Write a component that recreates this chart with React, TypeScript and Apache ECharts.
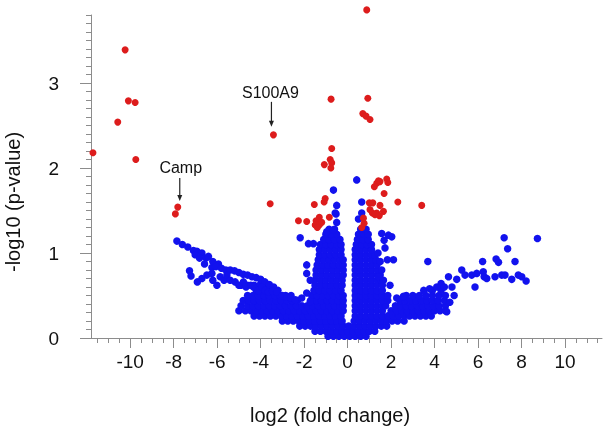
import React, { useEffect, useRef } from 'react';
import * as echarts from 'echarts';

// ---------- axis ticks ----------
const xMajorTicks = [-10, -8, -6, -4, -2, 0, 2, 4, 6, 8, 10];
const yMajorTicks = [0, 1, 2, 3];

// ---------- significant (red) genes: [log2FC, -log10 p] ----------
const significantPoints: [number, number][] = [
  [-10.23, 3.39], [-10.08, 2.79], [-9.77, 2.77], [-10.57, 2.54], [-11.71, 2.18], [-9.74, 2.1],
  [-7.81, 1.54], [-7.92, 1.46], [-3.41, 2.39], [-3.56, 1.58],
  [0.88, 3.86], [-0.76, 2.81], [0.93, 2.82], [0.7, 2.64], [0.85, 2.61], [1.03, 2.57],
  [-0.73, 2.23], [-0.8, 2.1], [-0.73, 2.06], [-1.07, 2.04], [-0.77, 2.0],
  [1.42, 1.85], [1.34, 1.82], [1.23, 1.78], [1.8, 1.87], [1.85, 1.83], [1.68, 1.7], [2.31, 1.6],
  [1.0, 1.59], [1.16, 1.59], [1.49, 1.56], [1.03, 1.51], [1.14, 1.47], [1.34, 1.47], [1.65, 1.49],
  [1.26, 1.45], [1.46, 1.44], [0.73, 1.41], [0.76, 1.35], [0.65, 1.3], [1.49, 1.84],
  [-1.03, 1.64], [-1.08, 1.6], [-1.53, 1.57], [-1.3, 1.42], [-0.84, 1.42], [-2.26, 1.38],
  [-1.88, 1.37], [-1.45, 1.38], [-1.49, 1.33], [-1.3, 1.33], [-1.19, 1.36], [-1.39, 1.3],
  [3.41, 1.56],
];

// ---------- non-significant (blue) genes ----------
const leftArmUpper: [number, number][] = [
  [-7.85, 1.14], [-7.6, 1.1], [-7.35, 1.07], [-7.09, 1.03], [-6.93, 1.02], [-7.01, 0.98], [-6.7, 1.0],
  [-6.81, 0.94], [-6.51, 0.94], [-6.4, 0.96], [-6.58, 0.87], [-6.24, 0.83], [-5.94, 0.87], [-6.2, 0.9],
  [-6.05, 0.84], [-5.8, 0.82], [-5.6, 0.8], [-5.4, 0.8], [-5.2, 0.79], [-5.0, 0.77], [-4.8, 0.75],
  [-4.6, 0.74], [-4.4, 0.72], [-4.2, 0.71], [-4.0, 0.69], [-3.8, 0.66], [-3.6, 0.63], [-3.4, 0.6],
];
const leftArmLower: [number, number][] = [
  [-7.27, 0.79], [-7.2, 0.73], [-6.91, 0.66], [-6.7, 0.7], [-6.47, 0.74], [-6.24, 0.76], [-6.2, 0.68],
  [-6.01, 0.62], [-5.86, 0.72], [-5.68, 0.68], [-5.55, 0.74], [-5.4, 0.68], [-5.17, 0.66], [-5.0, 0.62],
  [-4.79, 0.66], [-4.67, 0.6], [-4.45, 0.62], [-4.33, 0.6], [-4.1, 0.56], [-3.95, 0.6], [-3.79, 0.56],
  [-3.64, 0.54], [-3.45, 0.55], [-3.26, 0.54], [-3.0, 0.5], [-2.8, 0.48], [-2.6, 0.47], [-2.4, 0.45],
];
const centralScatter: [number, number][] = [
  [-2.18, 1.18], [-1.8, 1.11], [-1.57, 1.11], [-1.88, 0.86], [-1.88, 0.76], [-1.72, 0.68], [-1.88, 0.53],
  [-2.11, 0.47], [-1.72, 0.43], [-0.65, 1.74], [-0.5, 1.56], [-0.53, 1.46], [-0.96, 1.25], [-0.65, 1.27],
  [-0.57, 1.47], [-0.5, 1.36], [0.42, 1.86], [0.65, 1.6], [0.65, 1.47], [0.5, 1.4],
];
const rightScatter: [number, number][] = [
  [2.03, 1.19], [1.88, 1.21], [1.68, 1.15], [1.57, 1.23], [1.72, 1.06], [2.11, 0.92], [1.83, 0.92],
  [1.95, 0.62], [2.26, 0.47], [2.57, 0.49], [1.57, 0.8], [1.42, 0.72], [1.65, 0.68], [1.4, 1.0], [1.5, 0.9],
  [3.69, 0.9], [3.77, 0.58], [4.3, 0.64], [4.64, 0.72], [5.02, 0.69], [5.25, 0.8], [5.4, 0.74],
  [5.71, 0.74], [5.94, 0.76], [6.24, 0.78], [6.28, 0.72], [6.4, 0.7], [6.21, 0.9], [5.86, 0.6],
  [6.78, 0.72], [7.09, 0.74], [7.24, 0.74], [7.55, 0.69], [7.85, 0.74], [8.01, 0.72], [8.21, 0.67],
  [6.83, 0.93], [6.94, 0.89], [7.7, 0.9], [7.36, 1.05], [7.2, 1.18], [8.73, 1.17],
  [4.8, 0.6], [4.45, 0.6], [4.1, 0.6], [4.9, 0.5], [4.56, 0.31], [4.7, 0.42],
];
// dense core of the volcano: each row = [-log10 p, log2FC values...]
const denseRows: number[][] = [
  [0.02, -0.9, -0.65, -0.4, -0.15, 0.1, 0.35, 0.6, 0.85],
  [0.08, -1.5, -1.25, -1.0, -0.75, -0.5, -0.25, 0, 0.25, 0.5, 0.75, 1.0, 1.25],
  [0.14, -2.2, -1.95, -1.7, -1.45, -1.2, -0.95, -0.7, -0.45, -0.2, 0.05, 0.3, 0.55, 0.8, 1.05, 1.3, 1.55, 1.8],
  [0.2, -3.0, -2.75, -2.5, -2.25, -2.0, -1.75, -1.5, -1.25, -1.0, -0.75, -0.5, -0.25, 0.3, 0.55, 0.8, 1.05, 1.3, 1.55, 1.8, 2.05, 2.3, 2.6],
  [0.26, -4.3, -4.05, -3.8, -3.55, -3.3, -3.05, -2.8, -2.55, -2.3, -2.05, -1.8, -1.55, -1.3, -1.05, -0.8, -0.55, -0.3, 0.35, 0.6, 0.85, 1.1, 1.35, 1.6, 1.85, 2.1, 2.35, 2.6, 2.85, 3.1, 3.35, 3.6, 3.85],
  [0.32, -5.0, -4.7, -4.45, -4.2, -3.95, -3.7, -3.45, -3.2, -2.95, -2.7, -2.45, -2.2, -1.95, -1.7, -1.45, -1.2, -0.95, -0.7, -0.45, -0.2, 0.35, 0.6, 0.85, 1.1, 1.35, 1.6, 2.0, 2.25, 2.5, 2.75, 3.0, 3.25, 3.5, 3.75, 4.0, 4.25, 4.5],
  [0.38, -4.9, -4.6, -4.35, -4.1, -3.85, -3.6, -3.35, -3.1, -2.85, -2.6, -2.35, -2.1, -1.85, -1.6, -1.35, -1.1, -0.85, -0.6, -0.35, -0.2, 0.35, 0.6, 0.85, 1.1, 1.35, 1.6, 1.75, 2.2, 2.45, 2.7, 2.95, 3.2, 3.45, 3.7, 3.95, 4.2, 4.5],
  [0.44, -4.8, -4.55, -4.3, -4.05, -3.8, -3.55, -3.3, -3.05, -2.8, -2.55, -2.3, -1.7, -1.45, -1.2, -0.95, -0.7, -0.45, -0.2, 0.35, 0.6, 0.85, 1.1, 1.35, 1.6, 1.85, 2.4, 2.65, 2.9, 3.15, 3.4, 3.65, 3.9, 4.15, 4.45],
  [0.5, -4.6, -4.35, -4.1, -3.85, -3.6, -3.35, -3.1, -2.85, -2.6, -1.65, -1.4, -1.15, -0.9, -0.65, -0.4, -0.2, 0.35, 0.6, 0.85, 1.1, 1.35, 1.6, 1.85, 2.7, 3.0, 3.3, 3.6, 3.9, 4.2, 4.5],
  [0.56, -4.2, -3.95, -3.7, -3.45, -3.2, -1.55, -1.3, -1.05, -0.8, -0.55, -0.3, 0.35, 0.6, 0.85, 1.1, 1.35, 1.6, 3.5, 3.9, 4.3],
  [0.62, -4.9, -4.6, -4.3, -4.05, -3.85, -1.5, -1.25, -1.0, -0.75, -0.5, -0.25, 0.35, 0.6, 0.85, 1.1, 1.35, 1.6],
  [0.68, -1.5, -1.25, -1.0, -0.75, -0.5, -0.25, 0.35, 0.6, 0.85, 1.1, 1.35, 1.55],
  [0.74, -1.45, -1.2, -0.95, -0.7, -0.45, -0.2, 0.35, 0.6, 0.85, 1.1, 1.35, 1.5],
  [0.8, -1.45, -1.2, -0.95, -0.7, -0.45, -0.2, 0.35, 0.6, 0.85, 1.1, 1.35],
  [0.86, -1.4, -1.15, -0.9, -0.65, -0.4, -0.2, 0.35, 0.6, 0.85, 1.1, 1.35],
  [0.92, -1.35, -1.1, -0.85, -0.6, -0.35, -0.2, 0.35, 0.6, 0.85, 1.1, 1.3],
  [0.98, -1.3, -1.05, -0.8, -0.55, -0.3, 0.35, 0.6, 0.85, 1.1, 1.25],
  [1.04, -1.3, -1.05, -0.8, -0.55, -0.3, 0.35, 0.6, 0.85, 1.1],
  [1.1, -1.25, -1.0, -0.75, -0.5, -0.3, 0.4, 0.65, 0.9, 1.1],
  [1.16, -1.1, -0.85, -0.6, -0.35, 0.45, 0.7, 0.95],
  [1.22, -1.0, -0.75, -0.5, 0.5, 0.75, 0.95],
  [1.28, -0.85, -0.6, 0.6, 0.85],
];

const annotations = [
  { label: 'S100A9', x: -3.41, y: 2.39, dx: -2, textDy: -42, arrowTop: -33, arrowTip: -8 },
  { label: 'Camp', x: -7.81, y: 1.54, dx: 2, textDy: -40, arrowTop: -29, arrowTip: -6 },
];

const FONT = "'Liberation Sans', Arial, Helvetica, sans-serif";
const AXIS_GRAY = '#8c8c8c';
const X_MIN = -11.8;
const X_MAX = 11.7;
const Y_MIN = 0;
const Y_MAX = 3.8;

function minorTicks(min: number, max: number, step: number, majors: number[]): number[] {
  const out: number[] = [];
  const start = Math.ceil(min / step - 1e-9);
  const end = Math.floor(max / step + 1e-9);
  for (let i = start; i <= end; i++) {
    const v = Math.round(i * step * 100) / 100;
    if (!majors.some((m) => Math.abs(m - v) < 1e-6)) out.push(v);
  }
  return out;
}

export default function App() {
  const ref = useRef<HTMLDivElement>(null);

  useEffect(() => {
    if (!ref.current) return;
    const chart = echarts.init(ref.current, undefined, { renderer: 'svg' });

    const blueData: [number, number][] = [];
    denseRows.forEach((row) => {
      const y = row[0];
      for (let i = 1; i < row.length; i++) blueData.push([row[i], y]);
    });
    blueData.push(...leftArmUpper, ...leftArmLower, ...centralScatter, ...rightScatter);

    const xMinor = minorTicks(X_MIN, X_MAX, 0.5, xMajorTicks);
    const yMinor = minorTicks(Y_MIN, Y_MAX, 0.1, yMajorTicks);

    const lineStyle = { color: AXIS_GRAY, width: 1 };

    chart.setOption({
      animation: false,
      grid: { left: 91, right: 12, top: 15, bottom: 93 },
      xAxis: [
        {
          type: 'value', min: X_MIN, max: X_MAX, position: 'bottom',
          axisLine: { show: true, onZero: false, lineStyle },
          axisTick: { show: true, length: 10, customValues: xMajorTicks, lineStyle },
          axisLabel: { customValues: xMajorTicks, margin: 14, fontSize: 19, color: '#111', fontFamily: FONT },
          splitLine: { show: false },
        },
        {
          type: 'value', min: X_MIN, max: X_MAX, position: 'bottom', offset: 0,
          axisLine: { show: false, onZero: false },
          axisTick: { show: true, length: 5, customValues: xMinor, lineStyle },
          axisLabel: { show: false },
          splitLine: { show: false },
        },
      ],
      yAxis: [
        {
          type: 'value', min: Y_MIN, max: Y_MAX, position: 'left',
          axisLine: { show: true, onZero: false, lineStyle },
          axisTick: { show: true, length: 11, customValues: yMajorTicks, lineStyle },
          axisLabel: { customValues: yMajorTicks, margin: 32, fontSize: 19, color: '#111', fontFamily: FONT, padding: [6, 0, 0, 0] },
          splitLine: { show: false },
        },
        {
          type: 'value', min: Y_MIN, max: Y_MAX, position: 'left', offset: 0,
          axisLine: { show: false, onZero: false },
          axisTick: { show: true, length: 5, customValues: yMinor, lineStyle },
          axisLabel: { show: false },
          splitLine: { show: false },
        },
      ],
      series: [
        {
          type: 'scatter', xAxisIndex: 0, yAxisIndex: 0, data: blueData, symbolSize: 7.5,
          itemStyle: { color: '#1212ee', opacity: 1 }, clip: false, silent: true,
        },
        {
          type: 'scatter', xAxisIndex: 0, yAxisIndex: 0, data: significantPoints, symbolSize: 7,
          itemStyle: { color: '#dd1c1c', opacity: 1 }, clip: false, silent: true,
        },
      ],
    });

    const graphics: any[] = [
      {
        type: 'text', x: 330, y: 415,
        style: { text: 'log2 (fold change)', font: `20px ${FONT}`, fill: '#111', textAlign: 'center', textVerticalAlign: 'middle' },
      },
      {
        type: 'text', x: 13, y: 202, rotation: Math.PI / 2,
        style: { text: '-log10 (p-value)', font: `20px ${FONT}`, fill: '#111', textAlign: 'center', textVerticalAlign: 'middle' },
      },
    ];
    annotations.forEach((a) => {
      const p = chart.convertToPixel({ gridIndex: 0 }, [a.x, a.y]) as number[];
      const ax = p[0] + a.dx;
      graphics.push({
        type: 'text', x: p[0] + a.dx * 1.5, y: p[1] + a.textDy,
        style: { text: a.label, font: `16px ${FONT}`, fill: '#111', textAlign: 'center', textVerticalAlign: 'middle' },
      });
      graphics.push({
        type: 'line', shape: { x1: ax, y1: p[1] + a.arrowTop, x2: ax, y2: p[1] + a.arrowTip - 4 },
        style: { stroke: '#222', lineWidth: 1.2 },
      });
      graphics.push({
        type: 'polygon',
        shape: { points: [[ax - 2.5, p[1] + a.arrowTip - 6], [ax + 2.5, p[1] + a.arrowTip - 6], [ax, p[1] + a.arrowTip]] },
        style: { fill: '#222' },
      });
    });
    chart.setOption({ graphic: graphics });

    return () => chart.dispose();
  }, []);

  return <div ref={ref} style={{ position: 'fixed', left: 0, top: 0, width: 614, height: 431 }} />;
}
